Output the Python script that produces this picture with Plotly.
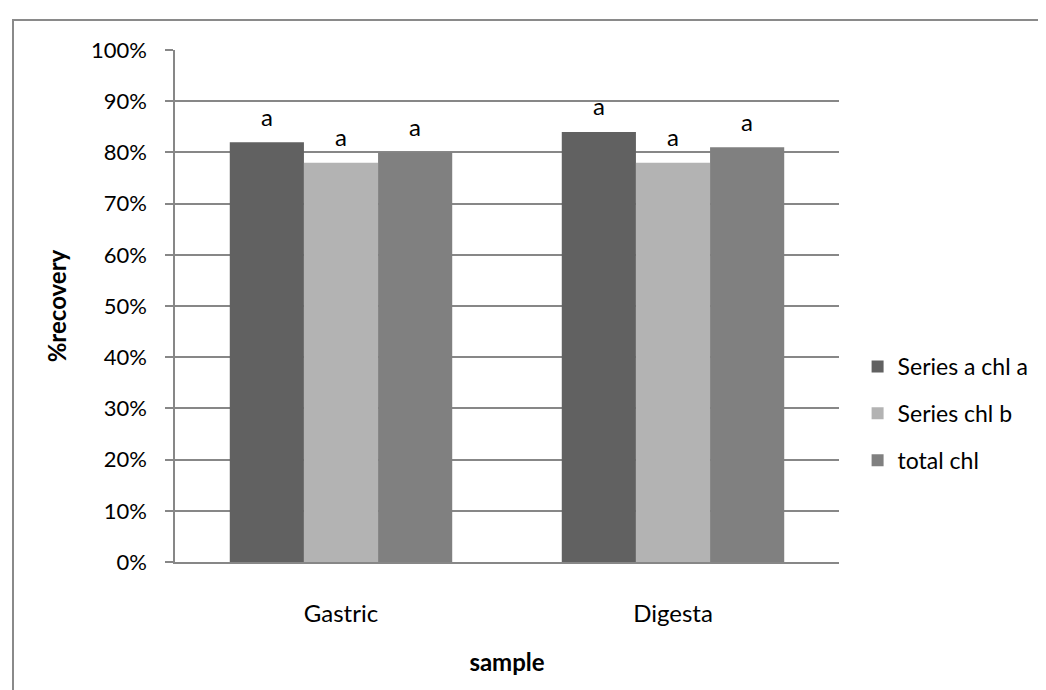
import plotly.graph_objects as go

categories = ["Gastric", "Digesta"]
series_names = ["Series a chl a", "Series chl b", "total chl"]
chl_a = [0.82, 0.84]
chl_b = [0.78, 0.78]
total_chl = [0.80, 0.81]
letters_a = ["a", "a"]
letters_b = ["a", "a"]
letters_total = ["a", "a"]
y_ticks = [0, 0.1, 0.2, 0.3, 0.4, 0.5, 0.6, 0.7, 0.8, 0.9, 1.0]
y_tick_labels = ["0%", "10%", "20%", "30%", "40%", "50%", "60%", "70%", "80%", "90%", "100%"]

colors = ["#616161", "#b3b3b3", "#808080"]
FONT = "Lato"
FS = 24
TFS = 22
LFS = 23
GRID = "#878787"

W, H = 1046, 690
ML, MR, MT, MB = 167, 215, 42, 136
BARGAP = 0.33

values = [chl_a, chl_b, total_chl]
letters = [letters_a, letters_b, letters_total]

fig = go.Figure()
for i, (name, vals) in enumerate(zip(series_names, values)):
    fig.add_trace(go.Bar(
        x=categories, y=vals, name=name,
        marker=dict(color=colors[i], line=dict(width=0)),
        legendgroup=f"g{i}",
    ))

# letter labels above bars
plot_w = W - ML - MR
cat_px = plot_w / len(categories)
bar_px = cat_px * (1 - BARGAP) / len(series_names)
annotations = []
for i, (vals, labs) in enumerate(zip(values, letters)):
    for c, v, t in zip(categories, vals, labs):
        annotations.append(dict(
            x=c, y=v, xref="x", yref="y", text=t, showarrow=False,
            xshift=(i - (len(series_names) - 1) / 2) * bar_px,
            yshift=26, yanchor="middle",
            font=dict(family=FONT, size=FS, color="#000000"),
        ))

plot_h = H - MT - MB
shapes = [dict(
    type="rect", xref="paper", yref="paper",
    x0=(5 - ML) / plot_w, x1=1.5,
    y0=-0.5, y1=(H - MB - 12) / plot_h,
    line=dict(color="#8a8a8a", width=2), fillcolor="rgba(0,0,0,0)", layer="below",
)]

fig.update_layout(
    width=W, height=H,
    margin=dict(l=ML, r=MR, t=MT, b=MB, pad=0),
    paper_bgcolor="white", plot_bgcolor="white",
    barmode="group", bargap=BARGAP, bargroupgap=0,
    font=dict(family=FONT, size=FS, color="#000000"),
    showlegend=True,
    legend=dict(
        x=1.028, y=0.29, xanchor="left", yanchor="middle",
        font=dict(family=FONT, size=LFS, color="#000000"),
        tracegroupgap=14, bgcolor="rgba(0,0,0,0)",
    ),
    annotations=annotations,
    shapes=shapes,
    xaxis=dict(
        showline=True, linecolor=GRID, linewidth=1.5,
        ticks="", showgrid=False,
        ticklabelstandoff=29,
        tickfont=dict(family=FONT, size=FS),
        title=dict(text="<b>sample</b>", font=dict(family=FONT, size=FS), standoff=29),
    ),
    yaxis=dict(
        range=[0, 1.0], tickvals=y_ticks, ticktext=y_tick_labels,
        showline=True, linecolor=GRID, linewidth=1.5,
        ticks="outside", ticklen=8, tickcolor=GRID, tickwidth=1.5,
        showgrid=True, gridcolor=GRID, gridwidth=1.5,
        zeroline=False,
        ticklabelstandoff=14,
        tickfont=dict(family=FONT, size=TFS),
        title=dict(text="<b>%recovery</b>", font=dict(family=FONT, size=FS), standoff=18),
    ),
)

fig.write_html("out.html")
